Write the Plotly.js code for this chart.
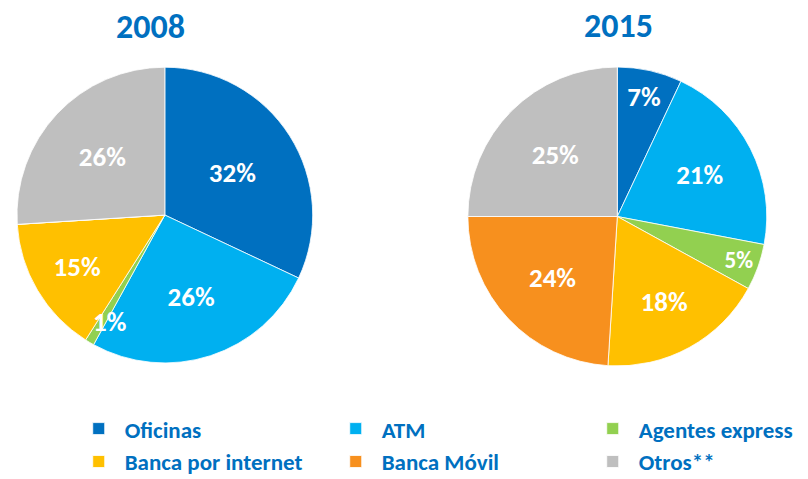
<!DOCTYPE html>
<html><head><meta charset="utf-8">
<script src="https://cdn.plot.ly/plotly-3.0.1.min.js"></script>
<style>html,body{margin:0;padding:0;background:#fff}</style>
</head><body>
<div id="chart" style="width:808px;height:479px"></div>
<script>
const labels = ['Oficinas', 'ATM', 'Agentes express', 'Banca por internet', 'Banca Móvil', 'Otros**'];
const values2008 = [32, 26, 1, 15, 0, 26];
const values2015 = [7, 21, 5, 18, 24, 25];
const colors = ['#0070C0', '#00B0F0', '#92D050', '#FFC000', '#F7901E', '#BFBFBF'];
const years = ['2008', '2015'];

const FONT = "Carlito, 'Open Sans', sans-serif";
const BLUE = '#0070C0';

function texts(vals) {
  // small slices get their label drawn separately
  return vals.map(v => (v >= 3 ? v + '%' : ''));
}

const common = {
  type: 'pie', labels: labels, sort: false, direction: 'clockwise', rotation: 0,
  marker: {colors: colors, line: {color: '#ffffff', width: 0.8}},
  textinfo: 'text', textposition: 'inside', insidetextorientation: 'horizontal',
  textfont: {family: FONT, size: 27, color: '#ffffff', weight: 'bold'},
  hoverinfo: 'label+value', showlegend: true
};

const data = [
  Object.assign({}, common, {values: values2008, text: texts(values2008), name: years[0],
    domain: {x: [0.021, 0.387], y: [0.242, 0.860]}}),
  Object.assign({}, common, {values: values2015, text: texts(values2015), name: years[1],
    domain: {x: [0.579, 0.949], y: [0.236, 0.860]}})
];

const layout = {
  width: 808, height: 479,
  margin: {l: 0, r: 0, t: 0, b: 0, autoexpand: false},
  paper_bgcolor: '#ffffff',
  font: {family: FONT},
  showlegend: true,
  legend: {
    orientation: 'h', x: 0.09, y: 0.15, xanchor: 'left', yanchor: 'top',
    entrywidth: 200, entrywidthmode: 'pixels', itemwidth: 42,
    font: {family: FONT, size: 23, color: BLUE, weight: 'bold'},
    traceorder: 'normal', tracegroupgap: 0
  },
  annotations: [
    {text: '<b>' + years[0] + '</b>', x: 150 / 808, y: 1 - 27 / 479, xref: 'paper', yref: 'paper',
     xanchor: 'center', yanchor: 'middle',
     showarrow: false, font: {family: FONT, size: 34, color: BLUE}},
    {text: '<b>' + years[1] + '</b>', x: 618 / 808, y: 1 - 25 / 479, xref: 'paper', yref: 'paper',
     xanchor: 'center', yanchor: 'middle',
     showarrow: false, font: {family: FONT, size: 34, color: BLUE}},
    {text: '<b>' + values2008[2] + '%</b>', x: 110 / 808, y: 1 - 321 / 479, xref: 'paper', yref: 'paper',
     xanchor: 'center', yanchor: 'middle',
     showarrow: false, font: {family: FONT, size: 27, color: '#ffffff'}}
  ]
};

Plotly.newPlot('chart', data, layout, {displayModeBar: false, staticPlot: true});
</script>
</body></html>
